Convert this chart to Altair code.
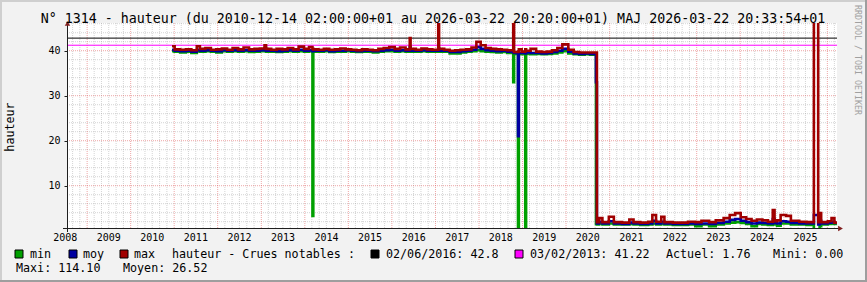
import altair as alt
import pandas as pd

# ---------------- data ----------------
dates = [
    "2010-12-14", "2011-01-05", "2011-02-20", "2011-04-10", "2011-05-25", "2011-07-10",
    "2011-08-05", "2011-09-20", "2011-11-05", "2011-12-20", "2012-02-05", "2012-03-20",
    "2012-05-05", "2012-06-20", "2012-08-05", "2012-09-20", "2012-11-05", "2012-12-20",
    "2013-01-28", "2013-02-10", "2013-03-25", "2013-05-10", "2013-06-25", "2013-08-10",
    "2013-09-25", "2013-11-10", "2013-12-25", "2014-02-05", "2014-03-06", "2014-03-13",
    "2014-04-25", "2014-06-10", "2014-07-25", "2014-09-10", "2014-10-25", "2014-12-10",
    "2015-01-25", "2015-03-10", "2015-04-25", "2015-06-10", "2015-07-25", "2015-09-10",
    "2015-10-25", "2015-12-10", "2016-01-25", "2016-03-10", "2016-04-25", "2016-05-30",
    "2016-06-06", "2016-07-20", "2016-09-05", "2016-10-20", "2016-12-05", "2017-01-24",
    "2017-01-31", "2017-03-15", "2017-04-30", "2017-06-15", "2017-07-30", "2017-09-15",
    "2017-10-30", "2017-12-10", "2018-01-15", "2018-02-25", "2018-04-10", "2018-05-25",
    "2018-07-10", "2018-08-25", "2018-10-15", "2018-10-22", "2018-11-24", "2018-12-01",
    "2018-12-25", "2019-01-24", "2019-01-31", "2019-03-10", "2019-04-25", "2019-06-10",
    "2019-07-25", "2019-09-05", "2019-10-20", "2019-12-01", "2020-01-20", "2020-03-05",
    "2020-04-20", "2020-06-05", "2020-07-20", "2020-09-08", "2020-09-16",
    "2020-10-05", "2020-11-01", "2020-12-25", "2021-02-05", "2021-04-15", "2021-06-15",
    "2021-07-20", "2021-09-15", "2021-11-20", "2021-12-25", "2022-01-25", "2022-03-10",
    "2022-04-05", "2022-06-15", "2022-08-20", "2022-10-20", "2022-12-20", "2023-02-10",
    "2023-04-15", "2023-06-10", "2023-08-15", "2023-10-05", "2023-11-20", "2024-01-05",
    "2024-02-20", "2024-04-05", "2024-05-20", "2024-07-05", "2024-08-20", "2024-09-30",
    "2024-10-15", "2024-11-05", "2024-12-05", "2025-01-20", "2025-03-01", "2025-05-10",
    "2025-07-10", "2025-09-10", "2025-10-16", "2025-10-28", "2025-11-10", "2026-01-05",
    "2026-02-05", "2026-03-01", "2026-03-22",
]
mini = [
    39.9, 39.8, 39.6, 39.8, 39.5, 39.9, 39.8, 39.9, 39.8, 39.6, 39.9, 39.8,
    39.9, 39.8, 39.9, 39.7, 39.8, 39.9, 40.1, 39.8, 39.8, 39.7, 39.8, 39.9,
    39.8, 39.9, 39.8, 39.9, 3.3, 39.8, 39.8, 39.9, 39.7, 39.8, 39.8, 39.9,
    39.8, 39.7, 39.8, 39.8, 39.6, 39.8, 39.9, 39.9, 39.8, 39.9, 39.8, 40.0,
    39.8, 39.8, 39.9, 39.8, 39.8, 40.0, 39.8, 39.8, 39.4, 39.4, 39.6, 39.8,
    39.9, 40.1, 39.9, 39.8, 39.7, 39.6, 39.7, 39.5, 33.0, 39.3, 0.0, 39.3,
    39.2, 0.0, 39.3, 39.2, 39.3, 39.2, 39.3, 39.4, 39.6, 39.9, 39.4, 39.2,
    39.1, 39.2, 39.1, 1.5, 1.4,
    1.6, 1.4, 1.6, 1.4, 1.4, 1.5, 1.4, 1.3, 1.4, 1.6, 1.4, 1.6,
    1.4, 1.3, 1.3, 1.4, 1.0, 1.4, 1.0, 1.4, 1.6, 1.8, 1.9, 1.7,
    1.5, 1.0, 1.5, 1.4, 1.3, 1.8, 1.4, 1.1, 1.6, 1.6, 1.4, 1.4,
    1.3, 0.0, 0.0, 1.0, 1.4, 1.5, 1.6, 1.5, 1.5,
]
moy = [
    40.2, 40.0, 39.9, 40.0, 39.8, 40.2, 40.0, 40.1, 40.0, 39.9, 40.1, 40.0,
    40.1, 40.0, 40.1, 40.0, 40.0, 40.1, 40.6, 40.0, 40.0, 39.9, 40.0, 40.1,
    40.0, 40.2, 40.0, 40.1, 39.9, 40.0, 40.0, 40.1, 39.9, 40.0, 40.0, 40.1,
    40.0, 39.9, 40.0, 40.0, 39.9, 40.0, 40.1, 40.2, 40.0, 40.1, 40.0, 40.8,
    40.0, 40.0, 40.1, 40.0, 40.0, 40.6, 40.0, 40.0, 39.7, 39.7, 39.9, 40.0,
    40.2, 40.8, 40.4, 40.1, 40.0, 39.9, 40.0, 39.8, 39.6, 39.5, 21.0, 39.5,
    39.5, 39.4, 39.6, 39.5, 39.5, 39.4, 39.5, 39.7, 40.0, 40.4, 39.8, 39.4,
    39.3, 39.4, 39.3, 33.0, 1.6,
    2.0, 1.6, 2.1, 1.6, 1.5, 1.8, 1.6, 1.5, 1.6, 2.2, 1.6, 2.0,
    1.6, 1.5, 1.5, 1.6, 1.5, 1.6, 1.5, 1.7, 2.0, 2.4, 2.6, 2.2,
    1.9, 1.6, 1.8, 1.7, 1.6, 2.6, 1.7, 1.6, 2.1, 2.0, 1.7, 1.6,
    1.6, 3.5, 1.4, 2.2, 1.6, 1.8, 2.0, 1.7, 1.7,
]
maxi = [
    41.0, 40.3, 40.2, 40.3, 40.1, 41.0, 40.4, 40.6, 40.2, 40.3, 40.5, 40.2,
    40.6, 40.3, 40.7, 40.3, 40.4, 40.5, 41.2, 40.4, 40.2, 40.4, 40.3, 40.6,
    40.3, 40.9, 40.4, 40.8, 40.4, 40.3, 40.2, 40.4, 40.2, 40.3, 40.5, 40.3,
    40.2, 40.1, 40.3, 40.2, 40.1, 40.4, 40.6, 40.8, 40.4, 40.7, 40.3, 42.8,
    40.4, 40.2, 40.5, 40.3, 40.2, 60.0, 40.4, 40.2, 40.0, 40.1, 40.2, 40.3,
    40.7, 42.0, 41.2, 40.6, 40.4, 40.3, 40.2, 40.1, 60.0, 39.7, 39.8, 40.3,
    39.8, 40.3, 40.0, 40.4, 39.8, 39.7, 39.8, 40.1, 40.6, 41.4, 40.2, 39.7,
    39.6, 39.6, 39.6, 39.6, 1.9,
    2.8, 1.9, 3.1, 1.9, 1.8, 2.5, 1.9, 1.8, 2.0, 3.5, 2.0, 3.1,
    1.9, 1.8, 1.8, 2.0, 1.9, 2.2, 1.9, 2.3, 2.8, 3.5, 3.9, 3.0,
    2.6, 2.2, 2.5, 2.3, 2.0, 4.6, 2.1, 2.3, 3.5, 3.3, 2.2, 2.0,
    1.9, 114.1, 1.9, 3.9, 1.9, 2.1, 2.8, 1.8, 1.76,
]

year_labels = list(range(2008, 2026))
floods = [("02/06/2016", 42.8, "#000000"), ("03/02/2013", 41.22, "#FF00FF")]

# ---------------- layout ----------------
CW, CH = 867, 282
PL, PT = 67, 23
W, H = 770, 205
Y0, Y1 = 0.6, 46.16
MONO = "DejaVu Sans Mono"

def px(x):
    return x - PL

def py(y):
    return y - PT

xscale = alt.Scale(domain=[alt.DateTime(year=2008, month=7, date=16),
                           alt.DateTime(year=2026, month=3, date=22, hours=20, minutes=20)])
yscale = alt.Scale(domain=[Y0, Y1], nice=False, zero=False)
yaxis = alt.Axis(values=[10, 20, 30, 40], grid=False, domain=False, ticks=True, tickSize=3,
                 tickColor="#1F1F1F", labelFont=MONO, labelFontSize=10, labelColor="#000000",
                 labelPadding=4, title=None)

one = pd.DataFrame({"k": [0]})

def text(s, x, y, size=11.7, align="left", baseline="middle", angle=0, color="#000000"):
    return alt.Chart(one).mark_text(text=s, align=align, baseline=baseline, fontSize=size,
                                     font=MONO, color=color, angle=angle).encode(
        x=alt.value(px(x)), y=alt.value(py(y)))

def box(x0, y0, x1, y1, color, stroke=None):
    kw = {}
    if stroke:
        kw = {"stroke": stroke, "strokeWidth": 1}
    return alt.Chart(one).mark_rect(color=color, **kw).encode(
        x=alt.value(px(x0)), x2=alt.value(px(x1)), y=alt.value(py(y0)), y2=alt.value(py(y1)))

layers = []

# grid
minor_x = pd.DataFrame({"d": [f"{y}-{m:02d}-01T00:00:00" for y in range(2008, 2027)
                              for m in (3, 5, 7, 9, 11)]})
major_x = pd.DataFrame({"d": [f"{y}-01-01T00:00:00" for y in range(2009, 2027)]})
minor_y = pd.DataFrame({"v": [v for v in range(2, 47, 2) if v % 10 != 0]})
major_y = pd.DataFrame({"v": [10, 20, 30, 40]})

grid_minor_style = dict(color="#8F8F8F", opacity=0.38, strokeDash=[1, 1], strokeWidth=1)
grid_major_style = dict(color="#DE4F4F", opacity=0.5, strokeDash=[1, 1], strokeWidth=1)

minor_x_f = minor_x[(minor_x.d > "2008-07-16") & (minor_x.d < "2026-03-22")]
layers.append(alt.Chart(minor_x_f).mark_rule(**grid_minor_style).encode(
    x=alt.X("d:T", scale=xscale, axis=None), y=alt.value(0), y2=alt.value(H)))
layers.append(alt.Chart(minor_y).mark_rule(**grid_minor_style).encode(
    y=alt.Y("v:Q", scale=yscale, axis=yaxis), x=alt.value(0), x2=alt.value(W)))
layers.append(alt.Chart(major_x).mark_rule(**grid_major_style).encode(
    x=alt.X("d:T", scale=xscale, axis=None), y=alt.value(0), y2=alt.value(H)))
layers.append(alt.Chart(major_y).mark_rule(**grid_major_style).encode(
    y=alt.Y("v:Q", scale=yscale, axis=yaxis), x=alt.value(0), x2=alt.value(W)))

# flood reference lines
for _, val, col in floods:
    layers.append(alt.Chart(pd.DataFrame({"v": [val]})).mark_rule(color=col, strokeWidth=1).encode(
        y=alt.Y("v:Q", scale=yscale, axis=yaxis), x=alt.value(0), x2=alt.value(W)))

# series
df = pd.DataFrame({"d": [d + "T00:00:00" for d in dates], "mn": mini, "my": moy, "mx": maxi})
for col, color in (("mn", "#00A000"), ("my", "#0000A0"), ("mx", "#A00000")):
    layers.append(alt.Chart(df).mark_line(color=color, strokeWidth=2.6, interpolate="step-after",
                                          clip=True, strokeJoin="miter").encode(
        x=alt.X("d:T", scale=xscale, axis=None),
        y=alt.Y(f"{col}:Q", scale=yscale, axis=yaxis)))

# axes lines and arrows
layers.append(alt.Chart(one).mark_rule(color="#1F1F1F", strokeWidth=1).encode(
    x=alt.value(px(63)), x2=alt.value(px(840)), y=alt.value(py(228.5)), y2=alt.value(py(228.5))))
layers.append(alt.Chart(one).mark_rule(color="#1F1F1F", strokeWidth=1).encode(
    x=alt.value(px(67.5)), x2=alt.value(px(67.5)), y=alt.value(py(24)), y2=alt.value(py(232))))
layers.append(alt.Chart(one).mark_point(shape="triangle-up", filled=True, color="#801F1F",
                                        size=30, opacity=1).encode(
    x=alt.value(px(67.5)), y=alt.value(py(23.5))))
layers.append(alt.Chart(one).mark_point(shape="triangle-right", filled=True, color="#801F1F",
                                        size=30, opacity=1).encode(
    x=alt.value(px(840.5)), y=alt.value(py(228.5))))

# x labels (centered mid-year)
xl = pd.DataFrame({"d": [f"{y}-07-02T00:00:00" for y in year_labels],
                   "t": [str(y) for y in year_labels]})
layers.append(alt.Chart(xl).mark_text(font=MONO, fontSize=10, color="#000000",
                                      baseline="middle", align="center").encode(
    x=alt.X("d:T", scale=xscale, axis=None), y=alt.value(py(237.5)), text="t:N"))

# title and side texts
layers.append(text("N° 1314 - hauteur (du 2010-12-14 02:00:00+01 au 2026-03-22 20:20:00+01) "
                   "MAJ 2026-03-22 20:33:54+01", 433, 19, size=13.3, align="center"))
layers.append(text("hauteur", 10, 127, size=11.7, align="center", angle=270))
layers.append(text("RRDTOOL / TOBI OETIKER", 857, 60, size=8.3, align="center", angle=90,
                   color="#A0A0A0"))

# legend
LY = 254
legend_items = [("min", "#00A000", 15, 30), ("moy", "#0000A0", 69, 83), ("max", "#A00000", 120, 134)]
for label, col, bx, tx in legend_items:
    layers.append(box(bx, LY - 4, bx + 8, LY + 4, col, stroke="#000000"))
    layers.append(text(label, tx, LY))
layers.append(text("hauteur - Crues notables :", 172, LY))
fx = [(371, 386), (515, 530)]
for (lab, val, col), (bx, tx) in zip(floods, fx):
    layers.append(box(bx, LY - 4, bx + 8, LY + 4, col, stroke="#000000"))
    layers.append(text(f"{lab}: {val}", tx, LY))
layers.append(text("Actuel: 1.76", 666, LY))
layers.append(text("Mini: 0.00", 773, LY))
layers.append(text("Maxi: 114.10", 16, 268))
layers.append(text("Moyen: 26.52", 123, 268))

# 3D frame
layers.append(box(0, 0, CW, 2, "#CFCFCF"))
layers.append(box(0, 0, 2, CH, "#CFCFCF"))
layers.append(box(CW - 2, 0, CW, CH, "#9E9E9E"))
layers.append(box(0, CH - 2, CW, CH, "#9E9E9E"))

chart = alt.layer(*layers).properties(
    width=W, height=H, background="#F2F2F2",
    padding={"left": PL, "top": PT, "right": CW - PL - W, "bottom": CH - PT - H},
    autosize=alt.AutoSizeParams(type="none"),
).configure_view(fill="#FFFFFF", stroke=None)

chart.save("out.html", embed_options={"renderer": "svg", "actions": False})
